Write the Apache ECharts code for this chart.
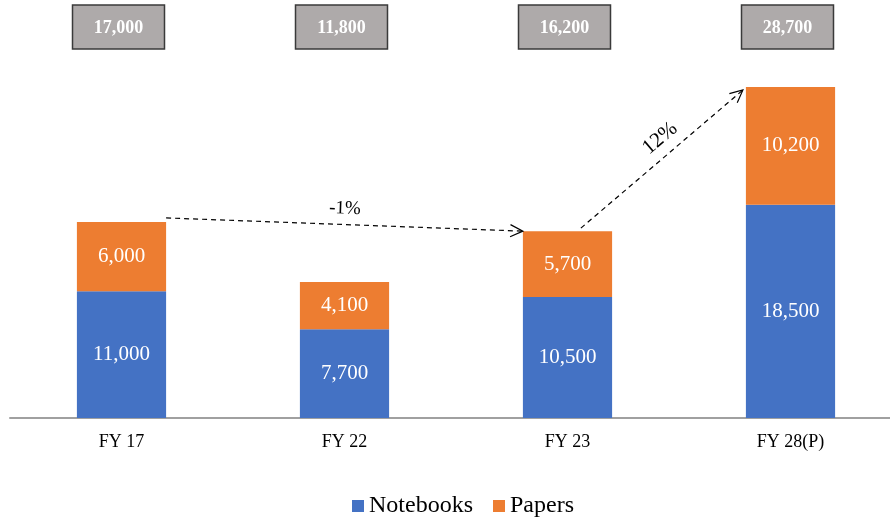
<!DOCTYPE html>
<html>
<head>
<meta charset="utf-8">
<script src="https://cdn.jsdelivr.net/npm/echarts@6.0.0/dist/echarts.min.js"></script>
<style>
  html, body { margin: 0; padding: 0; background: #fff; }
  #chart { width: 890px; height: 520px; }
</style>
</head>
<body>
<div id="chart"></div>
<script>
// data
const categories = ['FY 17', 'FY 22', 'FY 23', 'FY 28(P)']
const notebooks = [11000, 7700, 10500, 18500]
const papers = [6000, 4100, 5700, 10200]
const totals = [17000, 11800, 16200, 28700]
// growth arrows: [from index, to index, label]
const growth = [[0, 2, '-1%'], [2, 3, '12%']]

const serif = "'Liberation Serif', 'Times New Roman', serif"
const fmt = (v) => v.toLocaleString('en-US')

const chart = echarts.init(document.getElementById('chart'))

// 总量灰框
const renderTotal = (params, api) => {
  const idx = api.value(0)
  const x = api.coord([idx, 0])[0] - 3
  return {
    type: 'group',
    children: [
      {
        type: 'rect',
        shape: { x: x - 46, y: 5, width: 92, height: 44 },
        style: { fill: '#AEAAAA', stroke: '#3a3a3a', lineWidth: 1.5 }
      },
      {
        type: 'text',
        style: {
          x: x, y: 28,
          text: fmt(totals[idx]),
          fill: '#fff',
          font: 'bold 18px ' + serif,
          align: 'center',
          verticalAlign: 'middle'
        }
      }
    ]
  }
}

// 虚线箭头
const renderArrow = (params, api) => {
  const i = params.dataIndex
  const from = api.value(0)
  const to = api.value(1)
  const bw = api.size([1, 0])[0] * 0.4
  const p1 = api.coord([from, totals[from]])
  const p2 = api.coord([to, totals[to]])
  let x1, y1, x2, y2
  if (i === 0) {
    x1 = p1[0] + bw / 2; y1 = p1[1] - 4
    x2 = p2[0] - bw / 2; y2 = p2[1]
  } else {
    x1 = p1[0] + bw * 0.15; y1 = p1[1] - 3
    x2 = p2[0] - bw / 2 - 3; y2 = p2[1] + 3
  }
  const ang = Math.atan2(y2 - y1, x2 - x1)
  const hl = 14, ha = Math.PI / 7
  // 标签沿线方向的偏移
  const along = i === 0 ? 0 : 12
  const mx = (x1 + x2) / 2 + along * Math.cos(ang)
  const my = (y1 + y2) / 2 + along * Math.sin(ang)
  const lineStyle = { stroke: '#000', lineWidth: 1.2, fill: null }
  const label = growth[i][2]
  const off = i === 0 ? 14 : 17
  return {
    type: 'group',
    children: [
      {
        type: 'line',
        shape: { x1, y1, x2, y2 },
        style: Object.assign({ lineDash: [5, 4] }, lineStyle)
      },
      {
        type: 'polyline',
        shape: {
          points: [
            [x2 - hl * Math.cos(ang - ha), y2 - hl * Math.sin(ang - ha)],
            [x2, y2],
            [x2 - hl * Math.cos(ang + ha), y2 - hl * Math.sin(ang + ha)]
          ]
        },
        style: lineStyle
      },
      {
        type: 'text',
        x: mx + off * Math.sin(ang),
        y: my - off * Math.cos(ang) - (i === 0 ? 2 : 0),
        rotation: -ang,
        style: {
          text: label,
          fill: '#000',
          font: (i === 0 ? '19px ' : '21px ') + serif,
          align: 'center',
          verticalAlign: 'middle'
        }
      }
    ]
  }
}

const option = {
  backgroundColor: '#fff',
  animation: false,
  grid: { left: 10, width: 892, top: 72, bottom: 102, outerBoundsMode: 'none' },
  legend: {
    bottom: -3,
    left: 347,
    itemWidth: 12,
    itemHeight: 12,
    itemGap: 20,
    icon: 'rect',
    data: ['Notebooks', 'Papers'],
    textStyle: { fontFamily: serif, fontSize: 24, color: '#000' }
  },
  xAxis: {
    type: 'category',
    data: categories,
    axisLine: { lineStyle: { color: '#a0a0a0', width: 2 } },
    axisTick: { show: false },
    axisLabel: { color: '#000', fontFamily: serif, fontSize: 18, margin: 15 }
  },
  yAxis: {
    type: 'value',
    min: 0,
    max: 30000,
    show: false,
    splitLine: { show: false }
  },
  series: [
    {
      name: 'Notebooks',
      type: 'bar',
      stack: 'total',
      barWidth: '40%',
      data: notebooks,
      itemStyle: { color: '#4472C4' },
      label: {
        show: true, position: 'inside', color: '#fff',
        fontFamily: serif, fontSize: 21,
        formatter: (p) => fmt(p.value)
      }
    },
    {
      name: 'Papers',
      type: 'bar',
      stack: 'total',
      data: papers,
      itemStyle: { color: '#ED7D31' },
      label: {
        show: true, position: 'inside', color: '#fff',
        fontFamily: serif, fontSize: 21,
        formatter: (p) => fmt(p.value)
      }
    },
    {
      type: 'custom',
      data: totals.map((v, i) => [i, v]),
      renderItem: renderTotal,
      silent: true,
      z: 5
    },
    {
      type: 'custom',
      data: growth.map((g) => [g[0], g[1]]),
      renderItem: renderArrow,
      silent: true,
      z: 6
    }
  ]
}

chart.setOption(option)
</script>
</body>
</html>
